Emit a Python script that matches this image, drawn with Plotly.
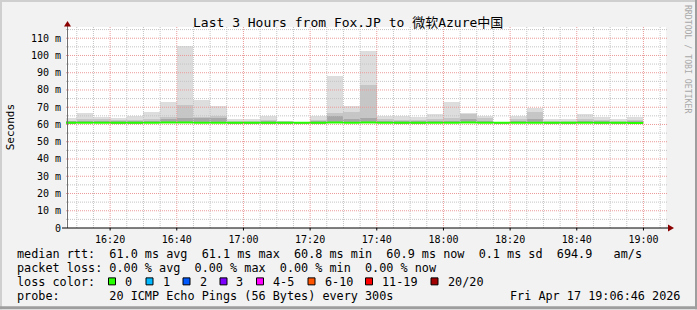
import plotly.graph_objects as go
import pandas as pd

# ---------------- data ----------------
DAY = "2026-04-17"
starts = ["16:05", "16:10", "16:15", "16:20", "16:25", "16:30", "16:35", "16:40", "16:45", "16:50", "16:55",
          "17:00", "17:05", "17:10", "17:15", "17:20", "17:25", "17:30", "17:35", "17:40", "17:45", "17:50", "17:55",
          "18:00", "18:05", "18:10", "18:15", "18:20", "18:25", "18:30", "18:35", "18:40", "18:45", "18:50", "18:55"]
smoke_max = [63.5, 66.4, 64.3, 63.5, 65.2, 67.2, 73.0, 105.4, 74.2, 70.7, 62.9, 62.9, 64.8, 62.3, 61.5, 65.2, 87.9,
             71.0, 102.7, 65.2, 64.8, 64.3, 65.8, 72.8, 66.4, 65.0, 61.5, 65.2, 69.4, 63.1, 63.3, 65.8, 64.1, 63.1, 64.6]
smoke_mid = [62.3, 63.0, 63.2, 62.5, 62.5, 63.0, 64.5, 71.5, 64.5, 65.0, 62.0, 62.0, 62.5, 61.8, 61.3, 62.8, 66.4,
             67.2, 82.7, 63.0, 62.5, 62.5, 63.0, 63.5, 66.0, 63.5, 61.3, 63.0, 67.4, 62.2, 62.2, 63.0, 62.5, 62.2, 62.8]
smoke_core = [61.8, 62.0, 62.0, 61.8, 61.8, 62.2, 63.0, 64.0, 63.5, 63.5, 61.6, 61.6, 61.8, 61.5, 61.2, 61.8, 65.0,
              63.0, 64.0, 62.0, 61.8, 61.8, 62.0, 62.2, 63.0, 62.0, 61.2, 62.0, 63.0, 61.7, 61.7, 62.0, 61.8, 61.7, 61.9]
smoke_min = [60.7, 60.7, 60.8, 60.7, 60.7, 60.8, 60.8, 60.8, 60.8, 60.8, 60.7, 60.7, 60.7, 60.7, 60.7, 60.7, 60.8,
             60.8, 60.8, 60.7, 60.7, 60.7, 60.7, 60.8, 60.8, 60.7, 60.7, 60.7, 60.8, 60.7, 60.7, 60.7, 60.7, 60.7, 60.7]
median = [61.0, 61.0, 61.0, 61.0, 61.0, 61.0, 61.1, 61.1, 61.0, 61.0, 61.0, 61.0, 61.0, 61.0, 61.0, 61.0, 61.1,
          61.0, 61.1, 61.0, 61.0, 61.0, 61.0, 61.0, 61.1, 61.0, 61.0, 61.0, 61.0, 61.0, 61.0, 61.0, 61.0, 61.0, 60.9]

y_ticks = [0, 10, 20, 30, 40, 50, 60, 70, 80, 90, 100, 110]
y_labels = ["0", "10 m", "20 m", "30 m", "40 m", "50 m", "60 m", "70 m", "80 m", "90 m", "100 m", "110 m"]
x_ticks = ["16:20", "16:40", "17:00", "17:20", "17:40", "18:00", "18:20", "18:40", "19:00"]

title = "Last 3 Hours from Fox.JP to 微软Azure中国"
line_rtt = "median rtt:  61.0 ms avg  61.1 ms max  60.8 ms min  60.9 ms now  0.1 ms sd  694.9   am/s"
line_loss = "packet loss: 0.00 % avg  0.00 % max  0.00 % min  0.00 % now"
loss_labels = ["0", "1", "2", "3", "4-5", "6-10", "11-19", "20/20"]
loss_colors = ["#26ff00", "#00b8ff", "#0059ff", "#7e00ff", "#ff00ff", "#ff5500", "#ff0000", "#a10000"]
line_probe = "probe:       20 ICMP Echo Pings (56 Bytes) every 300s"
stamp = "Fri Apr 17 19:06:46 2026"

# ---------------- layout geometry ----------------
W, H = 697, 310
L, R, T, B = 66, 666, 27, 228.5
Y_TOP = 116.5
STEP_MS = 5 * 60 * 1000
MONO = "DejaVu Sans Mono"


def fx(px):
    return (px - L) / (R - L)


def fy(py):
    return (B - py) / (B - T)


def nb(s):
    return s.replace(" ", "\u00a0")


xs = [f"{DAY} {s}" for s in starts]

fig = go.Figure()
for top, color in [(smoke_max, "#dddddd"), (smoke_mid, "#c6c6c6"), (smoke_core, "#a8a8a8")]:
    fig.add_trace(go.Bar(
        x=xs, y=[t - b for t, b in zip(top, smoke_min)], base=smoke_min,
        width=STEP_MS, offset=0, marker=dict(color=color, line=dict(width=0)),
        hoverinfo="skip", showlegend=False))

end_time = (pd.Timestamp(xs[-1]) + pd.Timedelta(minutes=5)).strftime("%Y-%m-%d %H:%M")
fig.add_trace(go.Scatter(
    x=xs + [end_time], y=median + [median[-1]], mode="lines", line_shape="hv",
    line=dict(color="#26ff00", width=2), hoverinfo="skip", showlegend=False))

shapes = []
# grid (drawn above data like rrdtool)
for t in pd.date_range(f"{DAY} 16:10", f"{DAY} 19:05", freq="5min"):
    major = t.minute % 20 == 0
    shapes.append(dict(type="line", xref="x", yref="paper", x0=t, x1=t, y0=0, y1=1, layer="above",
                       line=dict(color="#eb9a9a" if major else "#c4c4c4", width=1, dash="1px,1px")))
for v in range(5, 116, 5):
    major = v % 10 == 0
    shapes.append(dict(type="line", xref="paper", yref="y", x0=0, x1=fx(668), y0=v, y1=v, layer="above",
                       line=dict(color="#eb9a9a" if major else "#c4c4c4", width=1, dash="1px,1px")))
# axes
shapes.append(dict(type="line", xref="paper", yref="paper", x0=fx(67.5), x1=fx(67.5), y0=fy(228.5), y1=fy(25),
                   line=dict(color="#707070", width=1), layer="above"))
shapes.append(dict(type="line", xref="paper", yref="paper", x0=fx(62), x1=fx(669), y0=fy(228.5), y1=fy(228.5),
                   line=dict(color="#000000", width=1), layer="above"))
arrow = "#8b0000"
shapes.append(dict(type="path", xref="paper", yref="paper", layer="above",
                   path=f"M {fx(67.5)},{fy(21)} L {fx(64)},{fy(26.5)} L {fx(71)},{fy(26.5)} Z",
                   fillcolor=arrow, line=dict(width=0)))
shapes.append(dict(type="path", xref="paper", yref="paper", layer="above",
                   path=f"M {fx(674)},{fy(228.5)} L {fx(668)},{fy(225)} L {fx(668)},{fy(232)} Z",
                   fillcolor=arrow, line=dict(width=0)))
# x ticks below axis
for t in x_ticks:
    shapes.append(dict(type="line", xref="x", yref="paper", x0=f"{DAY} {t}", x1=f"{DAY} {t}",
                       y0=fy(228.5), y1=fy(231), line=dict(color="#000000", width=1), layer="above"))
# frame
shapes += [
    dict(type="line", xref="paper", yref="paper", x0=fx(0), x1=fx(697), y0=fy(1), y1=fy(1),
         line=dict(color="#cfcfcf", width=2)),
    dict(type="line", xref="paper", yref="paper", x0=fx(1), x1=fx(1), y0=fy(0), y1=fy(310),
         line=dict(color="#cfcfcf", width=2)),
    dict(type="line", xref="paper", yref="paper", x0=fx(0), x1=fx(697), y0=fy(308.5), y1=fy(308.5),
         line=dict(color="#9e9e9e", width=3)),
    dict(type="line", xref="paper", yref="paper", x0=fx(696), x1=fx(696), y0=fy(0), y1=fy(310),
         line=dict(color="#9e9e9e", width=2)),
]
# loss colour boxes
box_x = [108, 145.5, 182.5, 219.5, 256, 307.5, 365, 430.5]
for bx, c in zip(box_x, loss_colors):
    shapes.append(dict(type="rect", xref="paper", yref="paper", x0=fx(bx + 0.5), x1=fx(bx + 7.5),
                       y0=fy(278.5), y1=fy(285.5), fillcolor=c, line=dict(color="#000000", width=1)))

ann = []


def text(s, x, y, size=11.8, xanchor="left", yanchor="middle", color="#000000", angle=0, family=MONO):
    ann.append(dict(text=nb(s), x=fx(x), y=fy(y), xref="paper", yref="paper", showarrow=False,
                    xanchor=xanchor, yanchor=yanchor, textangle=angle, borderpad=0,
                    font=dict(family=family, size=size, color=color)))


text(title, 347.5, 22, size=13, xanchor="center", family=MONO + ", Noto Sans CJK SC")
text("Seconds", 10, 127.5, size=11, xanchor="center", angle=-90)
text("RRDTOOL / TOBI OETIKER", 688, 59, size=8.2, xanchor="center", color="#a8a8a8", angle=90)
text(line_rtt, 16, 254.5)
text(line_loss, 16, 268.5)
text("loss color:", 16, 282.5)
for bx, lab in zip(box_x, loss_labels):
    text(lab, bx + 16, 282.5)
text(line_probe, 16, 296.5)
text(stamp, 681, 296.5, xanchor="right")

fig.update_layout(
    width=W, height=H, margin=dict(l=L, r=W - R, t=T, b=H - B),
    paper_bgcolor="#f2f2f2", plot_bgcolor="#ffffff", barmode="overlay", bargap=0,
    shapes=shapes, annotations=ann, showlegend=False,
    xaxis=dict(type="date", range=[f"{DAY} 16:06:46", f"{DAY} 19:06:46"],
               tickvals=[f"{DAY} {t}" for t in x_ticks], tickformat="%H:%M",
               showgrid=False, zeroline=False, showline=False, ticks="", ticklabelstandoff=4,
               tickfont=dict(family=MONO, size=10, color="#000000")),
    yaxis=dict(range=[0, Y_TOP], tickvals=y_ticks, ticktext=y_labels,
               showgrid=False, zeroline=False, showline=False, ticks="", ticklabelstandoff=4,
               tickfont=dict(family=MONO, size=10, color="#000000")),
)

fig.write_html("out.html")
